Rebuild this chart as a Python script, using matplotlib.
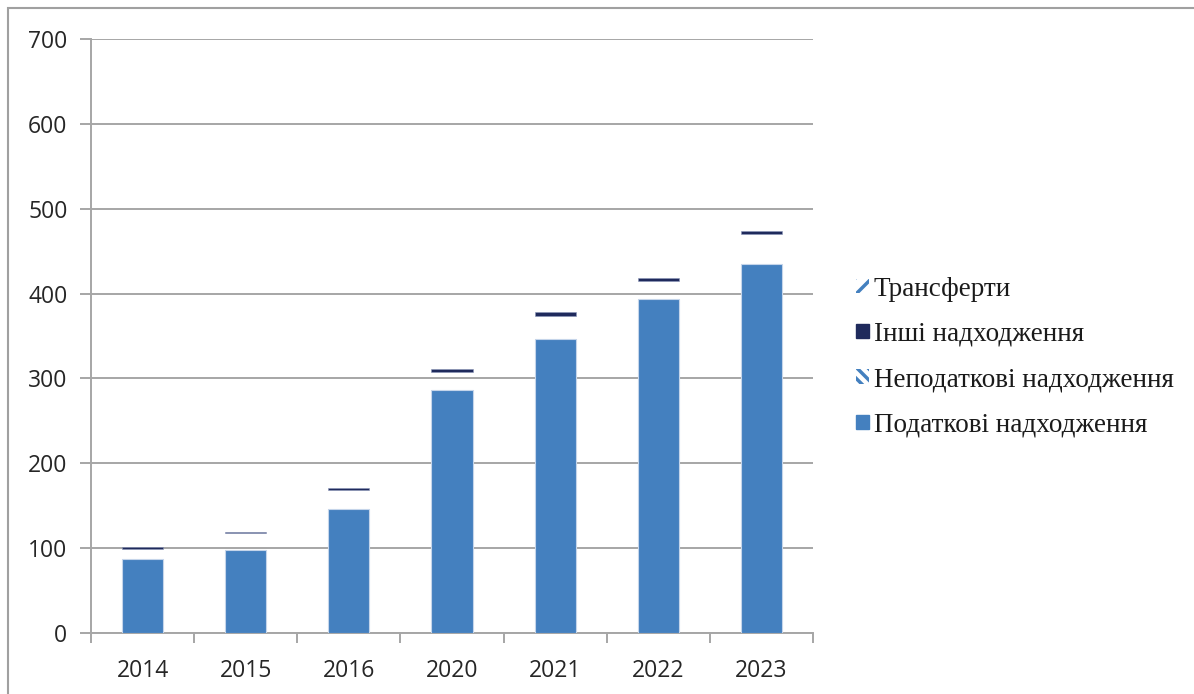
import matplotlib
matplotlib.use('Agg')
import matplotlib.pyplot as plt
from matplotlib.patches import Patch, Rectangle
import numpy as np

# дані (оцінка з графіка)
years = ['2014', '2015', '2016', '2020', '2021', '2022', '2023']
tax = [87, 98, 146, 286, 347, 394, 435]
nontax = [12, 20, 23, 21, 27, 21, 35]
other = [2, 1.5, 2, 4, 4, 3, 4]
transfers = [20, 25, 40, 120, 130, 160, 190]

labels = ['Податкові надходження', 'Неподаткові надходження',
          'Інші надходження', 'Трансферти']

blue = '#4480bf'
navy = '#1f2a5c'
grid_c = '#a6a6a6'

fig = plt.figure(figsize=(11.94, 6.94), dpi=100)
ax = fig.add_axes([91/1194, 61/694, 722/1194, 594/694])

# рамка навколо діаграми
fig.patches.append(Rectangle((8/1194, -0.05), 1.1, (694-8)/694 + 0.05,
                             transform=fig.transFigure, fill=False,
                             edgecolor='#a0a0a0', lw=1.5, zorder=-5))

x = np.arange(len(years))
w = 0.4
b1 = np.array(tax)
b2 = b1 + np.array(nontax)
b3 = b2 + np.array(other)

ax.bar(x, tax, w, color=blue, edgecolor='#c5d5ea', lw=0.8, zorder=3)
# неподаткові та трансферти на рисунку не видно (біле штрихування)
ax.bar(x, nontax, w, bottom=b1, fill=False, lw=0, zorder=3)
ax.bar(x, other, w, bottom=b2, color=navy, edgecolor='#8c96b8',
       lw=0.4, zorder=3)
ax.bar(x, transfers, w, bottom=b3, fill=False, lw=0, zorder=3)

ax.set_xlim(-0.5, len(years) - 0.5)
ax.set_ylim(0, 700)
ax.set_yticks(np.arange(0, 701, 100))
ax.yaxis.grid(True, color=grid_c, lw=1.4, zorder=0)
ax.set_axisbelow(True)

ax.set_xticks(np.arange(-0.5, len(years)), minor=False)
ax.set_xticklabels([])
ax.set_xticks(x, minor=True)
ax.set_xticklabels(years, minor=True)
ax.tick_params(axis='x', which='major', length=7, width=1.4, color=grid_c,
               direction='out')
ax.tick_params(axis='x', which='minor', length=0, pad=19,
               labelsize=16.5, labelcolor='#262626')
ax.tick_params(axis='y', length=8, width=1.4, color=grid_c, pad=9,
               labelsize=16.5, labelcolor='#262626')
for lab in ax.get_xticklabels(minor=True) + ax.get_yticklabels():
    lab.set_fontfamily('Open Sans')

for s in ['top', 'right']:
    ax.spines[s].set_visible(False)
for s in ['left', 'bottom']:
    ax.spines[s].set_color(grid_c)
    ax.spines[s].set_linewidth(1.4)

plt.rcParams['hatch.linewidth'] = 2.5
handles = [
    Patch(facecolor='white', edgecolor=blue, hatch='//', lw=0),
    Patch(facecolor=navy, edgecolor=navy),
    Patch(facecolor='white', edgecolor=blue, hatch='\\\\\\', lw=0),
    Patch(facecolor=blue, edgecolor=blue),
]
leg = fig.legend(handles, [labels[3], labels[2], labels[1], labels[0]],
                 loc='center left', bbox_to_anchor=(832/1194, 1 - 357/694),
                 frameon=False, prop={'family': 'Liberation Serif', 'size': 19.5},
                 handlelength=0.45, handleheight=0.45, handletextpad=0.2,
                 labelspacing=0.75)
for t in leg.get_texts():
    t.set_color('#1a1a1a')

fig.savefig('out.png', dpi=100)
